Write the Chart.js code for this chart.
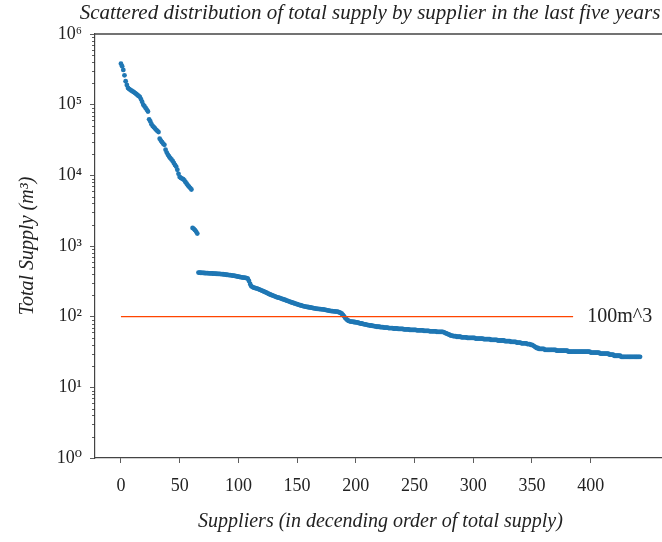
<!DOCTYPE html>
<html><head><meta charset="utf-8">
<script src="https://cdn.jsdelivr.net/npm/chart.js"></script>
<style>
html,body{margin:0;padding:0;overflow:hidden;background:#fff;width:662px;height:542px}
#wrap{position:absolute;left:0;top:0;width:760px;height:542px}
</style>
</head><body><div id="wrap"><canvas id="c" width="760" height="542"></canvas></div>
<script>
const chartTitle = "Scattered distribution of total supply by supplier in the last five years";
const xAxisTitle = "Suppliers (in decending order of total supply)";
const yAxisTitle = "Total Supply (m³)";
const xTickValues = [0, 50, 100, 150, 200, 250, 300, 350, 400];
const yTickValues = [1, 10, 100, 1000, 10000, 100000, 1000000];
const yTickLabels = ["10⁰", "10¹", "10²", "10³", "10⁴", "10⁵", "10⁶"];

// total supply of each supplier, ranks 0..65 (large suppliers)
const supplyTop = [
  380000, 350000, 310000, 260000, 215000, 190000, 172000, 166000, 162000, 158000,
  154000, 150000, 146000, 142000, 137000, 133000, 129000, 120000, 110000, 100000,
  95000, 90000, 85000, 80000, 62000, 58000, 53000, 50000, 48000, 46000,
  44000, 42500, 41000, 33000, 31000, 29500, 28000, 27000, 23000, 21000,
  19500, 18500, 17500, 16800, 16000, 15000, 14000, 13300, 12000, 10500,
  9500, 9200, 9000, 8800, 8500, 8000, 7600, 7200, 6900, 6600,
  6300, 1800, 1750, 1680, 1600, 1500
];
// ranks 66..442
const supplyRest = [
  420, 419, 418, 417, 416, 415, 414, 413, 412, 411,
  410, 409, 408, 407, 406, 405, 404, 403, 402, 401,
  400, 398, 396, 394, 392, 390, 388, 386, 384, 382,
  380, 377, 374, 371, 368, 365, 362, 360, 358, 356,
  354, 352, 345, 320, 290, 270, 262, 258, 255, 252,
  250, 246, 242, 238, 234, 230, 226, 222, 218, 214,
  210, 206, 203, 200, 197, 194, 191, 188, 186, 184,
  182, 179, 177, 174, 172, 169, 167, 165, 162, 160,
  158, 156, 154, 152, 150, 148, 146, 145, 143, 141,
  140, 139, 138, 137, 136, 135, 134, 133, 132, 131,
  130, 129, 129, 128, 128, 127, 127, 126, 125, 124,
  123, 122, 121, 120, 120, 119, 119, 118, 118, 117,
  115, 113, 110, 106, 101, 96, 92, 89, 87, 86,
  85, 85, 84, 84, 83, 83, 82, 81, 80, 80,
  79, 78, 78, 77, 76, 76, 75, 75, 74, 74,
  73, 73, 72, 72, 72, 71, 71, 71, 70, 70,
  70, 70, 69, 69, 69, 69, 68, 68, 68, 68,
  67, 67, 67, 67, 67, 66, 66, 66, 66, 66,
  65, 65, 65, 65, 65, 65, 64, 64, 64, 64,
  64, 64, 63, 63, 63, 63, 63, 62, 62, 62,
  62, 62, 62, 61, 61, 61, 61, 61, 61, 60,
  59, 58, 57, 56, 55, 54, 54, 53, 53, 53,
  52, 52, 52, 52, 51, 51, 51, 51, 51, 50,
  50, 50, 50, 50, 50, 50, 49, 49, 49, 49,
  49, 49, 49, 48, 48, 48, 48, 48, 48, 47,
  47, 47, 47, 47, 47, 46, 46, 46, 46, 46,
  46, 45, 45, 45, 45, 45, 44, 44, 44, 44,
  44, 43, 43, 43, 43, 42, 42, 42, 42, 42,
  41, 41, 41, 40, 40, 39, 38, 37, 36, 36,
  35, 35, 35, 35, 35, 34, 34, 34, 34, 34,
  34, 34, 34, 34, 34, 33, 33, 33, 33, 33,
  33, 33, 33, 33, 33, 32, 32, 32, 32, 32,
  32, 32, 32, 32, 32, 32, 32, 32, 32, 32,
  32, 32, 32, 32, 31, 31, 31, 31, 31, 31,
  31, 31, 30, 30, 30, 30, 30, 30, 30, 30,
  29, 29, 29, 29, 28, 28, 28, 28, 28, 28,
  27, 27, 27, 27, 27, 27, 27, 27, 27, 27,
  27, 27, 27, 27, 27, 27, 27
];
const thresholdX = [0, 385];
const thresholdValue = 100;
const thresholdLabel = "100m^3";
const thresholdLabelX = 397;

const supply = supplyTop.concat(supplyRest);
const serif = "'Liberation Serif', 'DejaVu Serif', serif";

const decor = {
  id: 'decor',
  afterDraw(chart) {
    const ctx = chart.ctx, a = chart.chartArea;
    const ys = chart.scales.y, xs = chart.scales.x;
    ctx.save();
    // top spine
    ctx.strokeStyle = '#444'; ctx.lineWidth = 1.3;
    ctx.beginPath(); ctx.moveTo(a.left, a.top); ctx.lineTo(a.right, a.top); ctx.stroke();
    // minor log ticks
    ctx.lineWidth = 0.8; ctx.strokeStyle = '#333';
    for (let d = 0; d < 6; d++) {
      for (let k = 2; k <= 9; k++) {
        const py = Math.round(ys.getPixelForValue(k * Math.pow(10, d))) + 0.5;
        ctx.beginPath(); ctx.moveTo(a.left - 3, py); ctx.lineTo(a.left, py); ctx.stroke();
      }
    }
    // threshold annotation
    ctx.fillStyle = '#222';
    ctx.font = "20px " + serif;
    ctx.textAlign = 'left'; ctx.textBaseline = 'middle';
    ctx.fillText(thresholdLabel, xs.getPixelForValue(thresholdLabelX), ys.getPixelForValue(thresholdValue));
    // chart title
    ctx.font = "italic 21px " + serif;
    ctx.textAlign = 'center';
    ctx.fillText(chartTitle, 370, 13.5);
    ctx.restore();
  }
};

new Chart(document.getElementById('c'), {
  type: 'scatter',
  data: {
    datasets: [
      {
        label: 'Total supply',
        data: supply.map((v, i) => ({ x: i, y: v })),
        backgroundColor: '#1f77b4',
        borderWidth: 0,
        pointRadius: 2.4,
        pointHoverRadius: 2.4,
        order: 2
      },
      {
        type: 'line',
        label: thresholdLabel,
        data: thresholdX.map(x => ({ x: x, y: thresholdValue })),
        borderColor: '#ff4500',
        borderWidth: 1.2,
        pointRadius: 0,
        fill: false,
        order: 1
      }
    ]
  },
  options: {
    responsive: false,
    animation: false,
    devicePixelRatio: 1,
    layout: { padding: { left: 0, right: 94, top: 34, bottom: 0 } },
    plugins: {
      legend: { display: false },
      tooltip: { enabled: false },
      title: { display: false }
    },
    scales: {
      x: {
        type: 'linear',
        min: -22.1,
        max: 464.1,
        afterBuildTicks: s => { s.ticks = xTickValues.map(v => ({ value: v })); },
        afterFit: s => { s.height = 84; },
        ticks: { color: '#222', font: { family: serif, size: 18 }, padding: 12, autoSkip: false, maxRotation: 0 },
        grid: { display: true, drawOnChartArea: false, drawTicks: true, tickLength: 5, color: '#333', tickWidth: 0.8 },
        border: { display: true, color: '#444', width: 1.2 },
        title: { display: true, text: xAxisTitle, color: '#222', font: { family: serif, style: 'italic', size: 20 }, padding: { top: 0, bottom: 8 } }
      },
      y: {
        type: 'logarithmic',
        min: 1,
        max: 1000000,
        afterBuildTicks: s => { s.ticks = yTickValues.map(v => ({ value: v })); },
        afterFit: s => { s.width = 95; },
        ticks: {
          color: '#222', font: { family: serif, size: 18 }, padding: 8, autoSkip: false,
          callback: (v) => { const i = yTickValues.indexOf(v); return i >= 0 ? yTickLabels[i] : ''; }
        },
        grid: { display: true, drawOnChartArea: false, drawTicks: true, tickLength: 5, color: '#333', tickWidth: 0.8 },
        border: { display: true, color: '#444', width: 1.2 },
        title: { display: true, text: yAxisTitle, color: '#222', font: { family: serif, style: 'italic', size: 20 }, padding: { top: 16, bottom: 0 } }
      }
    }
  },
  plugins: [decor]
});
</script>
</body></html>
